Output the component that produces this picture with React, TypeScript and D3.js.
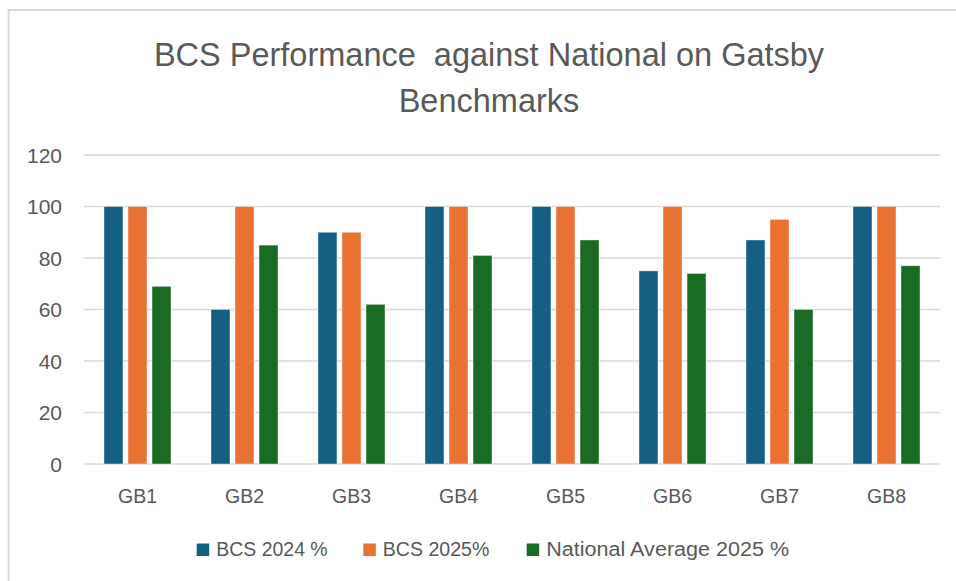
import React from "react";
import * as d3 from "d3";

const categories = ["GB1", "GB2", "GB3", "GB4", "GB5", "GB6", "GB7", "GB8"];
const bcs2024 = [100, 60, 90, 100, 100, 75, 87, 100];
const bcs2025 = [100, 100, 90, 100, 100, 100, 95, 100];
const national2025 = [69, 85, 62, 81, 87, 74, 60, 77];
const seriesNames = ["BCS 2024 %", "BCS 2025%", "National Average 2025 %"];
const yTicks = [0, 20, 40, 60, 80, 100, 120];
const titleLines = ["BCS Performance  against National on Gatsby", "Benchmarks"];

const colors = ["#156082", "#E97132", "#196B24"];
const FONT = "'Liberation Sans', Arial, sans-serif";
const TEXT = "#595959";
const GRID = "#d9d9d9";

export default function App() {
  const W = 956, H = 581;
  const left = 84, right = 940, top = 155, bottom = 464;
  const series = [bcs2024, bcs2025, national2025];

  const x = d3.scaleBand<string>().domain(categories).range([left, right]).paddingInner(0).paddingOuter(0);
  const y = d3.scaleLinear().domain([0, 120]).range([bottom, top]);
  const groupW = 67;
  const x1 = d3.scaleBand<number>().domain([0, 1, 2]).range([0, groupW]).paddingInner(0.21).paddingOuter(0);

  const legendX = [196.7, 363.3, 526.7];
  const legendW = [111.5, 106.5, 243];

  return (
    <svg width={W} height={H} style={{ position: "absolute", left: 0, top: 0, background: "#fff" }} fontFamily={FONT}>
      <rect x={0} y={0} width={W} height={H} fill="#fff" />
      <rect x={8.5} y={10} width={1000} height={700} fill="none" stroke={GRID} strokeWidth={2} />
      <g fill={TEXT} fontSize={32.5} textAnchor="middle">
        {titleLines.map((t, i) => (
          <text key={i} x={489} y={66 + i * 45.5} style={{ whiteSpace: "pre" }}>{t}</text>
        ))}
      </g>
      <g>
        {yTicks.map((t) => (
          <g key={t}>
            <line x1={left} x2={right} y1={y(t)} y2={y(t)} stroke={GRID} strokeWidth={1.6} />
            <text x={62} y={y(t)} dy="0.36em" textAnchor="end" fontSize={21} fill={TEXT}>{t}</text>
          </g>
        ))}
      </g>
      <g>
        {categories.map((c, ci) => {
          const gx = (x(c) as number) + (x.bandwidth() - groupW) / 2;
          return (
            <g key={c}>
              {series.map((s, si) => (
                <rect
                  key={si}
                  x={gx + (x1(si) as number)}
                  y={y(s[ci])}
                  width={x1.bandwidth()}
                  height={y(0) - y(s[ci])}
                  fill={colors[si]}
                  stroke="#ffffff"
                  strokeOpacity={0.5}
                  strokeWidth={0.8}
                />
              ))}
              <text x={(x(c) as number) + x.bandwidth() / 2} y={503} textAnchor="middle" fontSize={19.5} fill={TEXT}>{c}</text>
            </g>
          );
        })}
      </g>
      <g>
        {seriesNames.map((n, i) => (
          <g key={n}>
            <rect x={legendX[i]} y={543.5} width={12.5} height={12.5} fill={colors[i]} />
            <text
              x={legendX[i] + 19.5}
              y={556}
              fontSize={19.5}
              fill={TEXT}
              textLength={legendW[i]}
              lengthAdjust="spacingAndGlyphs"
              style={{ whiteSpace: "pre" }}
            >
              {n}
            </text>
          </g>
        ))}
      </g>
    </svg>
  );
}
